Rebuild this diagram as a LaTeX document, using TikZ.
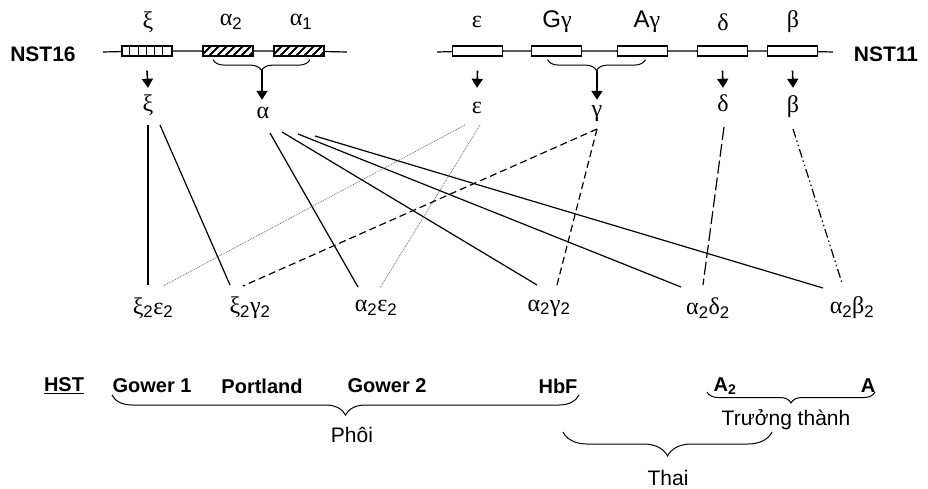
\documentclass[tikz,border=0pt]{standalone}
\usepackage{fontspec}
\setmainfont{Liberation Sans}
\setsansfont{Liberation Sans}
\newfontfamily\grk{Liberation Serif}
\newcommand\grl[1]{{\grk #1}}
\usetikzlibrary{calc,arrows.meta,decorations.pathreplacing}

\tikzset{
gene/.style={draw, line width=1.2pt, minimum width=50pt, minimum height=10pt, inner sep=0pt},
glab/.style={font=\fontsize{24}{26}\selectfont, inner sep=3pt},
prod/.style={glab, text height=17pt, text depth=5pt, inner sep=0pt},
chrom/.style={font=\bfseries\fontsize{21}{24}\selectfont},
hb/.style={font=\bfseries\fontsize{20}{22}\selectfont},
stage/.style={font=\fontsize{21}{24}\selectfont},
arr/.style={-{Triangle[length=9pt,width=11pt]}, line width=1.6pt},
link/.style={line width=1.2pt},
brc/.style={decorate, decoration={brace, mirror, amplitude=#1}, line width=1pt}
}

\begin{document}
\begin{tikzpicture}[x=1pt, y=-1pt]
\useasboundingbox (0,0) rectangle (928,489);

% chromosomes
\node[chrom] (n16) at (43,54) {NST16};
\node[chrom] (n11) at (886,54) {NST11};
\coordinate (c16a) at (103,52);
\coordinate (c16b) at (347,52);
\coordinate (c11a) at (437,52);
\coordinate (c11b) at (833,52);

\node[gene] (bxi) at (147,51) {};
\node[gene] (ba2) at (228,51) {};
\node[gene] (ba1) at (299,51) {};
\node[gene] (beps) at (477.5,51) {};
\node[gene] (bGg) at (556.5,51) {};
\node[gene] (bAg) at (642.5,51) {};
\node[gene] (bdel) at (722.5,51) {};
\node[gene] (bbet) at (792.5,51) {};

\draw[line width=1.2pt] (c16a) -- (bxi) -- (ba2) -- (ba1) -- (c16b);
\draw[line width=1.2pt] (c11a) -- (beps) -- (bGg) -- (bAg) -- (bdel) -- (bbet) -- (c11b);

\foreach \i in {1,...,5}
  \draw[line width=1pt] ($(bxi.south west)+(8.3*\i,0)$) -- ($(bxi.north west)+(8.3*\i,0)$);
\foreach \b in {ba2,ba1}{
  \begin{scope}
    \clip (\b.south west) rectangle (\b.north east);
    \foreach \i in {0,...,7}
      \draw[line width=2pt] ($(\b.south west)+(8*\i-10,0)$) -- ++(12,-12);
  \end{scope}
}

% gene names
\node[glab] (lxi) at (148,22) {\grl{ξ}};
\node[glab] (la2) at (231,22) {\grl{α}\textsubscript{2}};
\node[glab] (la1) at (301,22) {\grl{α}\textsubscript{1}};
\node[glab] (leps) at (477,22) {\grl{ε}};
\node[glab] (lGg) at (557,22) {G\grl{γ}};
\node[glab] (lAg) at (647,22) {A\grl{γ}};
\node[glab] (ldel) at (723,22) {\grl{δ}};
\node[glab] (lbet) at (793,22) {\grl{β}};

% chains
\node[prod] (pxi) at (148,106) {\grl{ξ}};
\node[prod] (palpha) at (263,113) {\grl{α}};
\node[prod] (peps) at (477,108) {\grl{ε}};
\node[prod] (pgam) at (597,111) {\grl{γ}};
\node[prod] (pdel) at (723,106) {\grl{δ}};
\node[prod] (pbet) at (793,107) {\grl{β}};

\coordinate (a0) at ($(ba2.south)+(-15,3)$);
\coordinate (a1) at ($(ba1.south)+(11,3)$);
\coordinate (ta) at (262,70);
\coordinate (g0) at ($(bGg.south)+(-9,3)$);
\coordinate (g1) at ($(bAg.south)+(3,3)$);
\coordinate (tg) at (597,70);
\draw[brc=11pt] (a0) -- (a1);
\draw[brc=11pt] (g0) -- (g1);

\draw[arr] ([yshift=-14pt]bxi.south) -- ([yshift=7pt]pxi.north);
\draw[arr] (ta) -- ([xshift=-1pt,yshift=2pt]palpha.north);
\draw[arr] ([yshift=-14pt]beps.south) -- ([yshift=9pt]peps.north);
\draw[arr] (tg) -- (pgam.north);
\draw[arr] ([yshift=-14pt]bdel.south) -- ([yshift=7pt]pdel.north);
\draw[arr] ([yshift=-14pt]bbet.south) -- ([yshift=8pt]pbet.north);

% hemoglobins
\node[glab] (xe) at (153,308) {\grl{ξ}\textsubscript{2}\grl{ε}\textsubscript{2}};
\node[glab] (xg) at (250,308) {\grl{ξ}\textsubscript{2}\grl{γ}\textsubscript{2}};
\node[glab] (ae) at (376,308) {\grl{α}\textsubscript{2}\grl{ε}\textsubscript{2}};
\node[glab] (ag) at (549,308) {\grl{α}\textsubscript{2}\grl{γ}\textsubscript{2}};
\node[glab] (ad) at (708,308) {\grl{α}\textsubscript{2}\grl{δ}\textsubscript{2}};
\node[glab] (ab) at (852,308) {\grl{α}\textsubscript{2}\grl{β}\textsubscript{2}};

\draw[link] ($(pxi)+(0,19)$) -- ($(xe)+(-5,-23)$);
\draw[link] ($(pxi)+(12,19)$) -- ($(xg)+(-20,-23)$);
\draw[link] ($(palpha)+(7,20)$) -- ($(ae)+(-18,-21)$);
\draw[link] ($(palpha)+(19,19)$) -- ($(ag)+(-12,-23)$);
\draw[link] ($(palpha)+(35,21)$) -- ($(ad)+(-27,-21)$);
\draw[link] ($(palpha)+(52,23)$) -- ($(ab)+(-29,-20)$);
\draw[densely dotted, line width=0.8pt, gray!80!black] ($(peps)+(-12,17)$) -- ($(xe)+(10,-22)$);
\draw[densely dotted, line width=0.8pt, gray!80!black] ($(peps)+(3,17)$) -- ($(ae)+(4,-20)$);
\draw[link, dash pattern=on 7pt off 4pt] ($(pgam)+(0,18)$) -- ($(xg)+(-7,-22)$);
\draw[link, dash pattern=on 7pt off 4pt] ($(pgam)+(0,18)$) -- ($(ag)+(8,-23)$);
\draw[link, dash pattern=on 13pt off 4pt] ($(pdel)+(1,21)$) -- ($(ad)+(-5,-23)$);
\draw[link, dash pattern=on 9pt off 3pt on 1.5pt off 3pt on 1.5pt off 3pt] ($(pbet)+(0,22)$) -- ($(ab)+(-10,-25)$);

% stages
\node[hb] (hst) at (64,386) {\underline{HST}};
\node[hb] (g1) at (152,386) {Gower 1};
\node[hb] (port) at (262,386) {Portland};
\node[hb] (g2) at (387,386) {Gower 2};
\node[hb] (hbf) at (558,386) {HbF};
\node[hb] (a2) at (725,386) {A\textsubscript{2}};
\node[hb] (aa) at (868,386) {A};

\coordinate (p0) at (112,395);
\coordinate (p1) at (579,395);
\coordinate (r0) at (707,392);
\coordinate (r1) at (875,392);
\coordinate (t0) at (563,432);
\coordinate (t1) at (772,432);
\draw[brc=20pt] (p0) -- (p1);
\draw[brc=11pt] (r0) -- (r1);
\draw[brc=24pt] (t0) -- (t1);

\node[stage] (phoi) at (352,435) {Phôi};
\node[stage] (adult) at (786,420) {Trưởng thành};
\node[stage] (thai) at (668,478) {Thai};
\end{tikzpicture}
\end{document}
